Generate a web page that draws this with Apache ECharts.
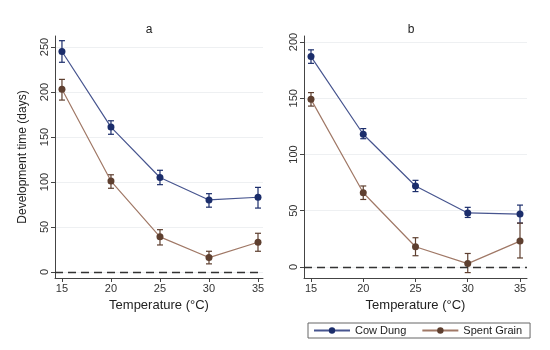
<!DOCTYPE html>
<html><head><meta charset="utf-8">
<script src="https://cdn.jsdelivr.net/npm/echarts@6/dist/echarts.min.js"></script>
<style>html,body{margin:0;padding:0;background:#fff}#c{width:550px;height:350px}</style>
</head><body><div id="c"></div>
<script>
const temps = [15, 20, 25, 30, 35];
const xTicks = [15, 20, 25, 30, 35];
const yTicksA = [0, 50, 100, 150, 200, 250];
const yTicksB = [0, 50, 100, 150, 200];
// Panel a
const cowA = [245, 161, 105, 80, 83];
const cowALow = [233, 153, 97, 72, 71];
const cowAHigh = [257, 168, 113, 87, 94];
const grainA = [203, 101, 39, 16, 33];
const grainALow = [191, 93, 30, 9, 23];
const grainAHigh = [214, 108, 47, 23, 43];
// Panel b
const cowB = [187, 118, 72, 48, 47];
const cowBLow = [181, 114, 67, 44, 39];
const cowBHigh = [193, 123, 77, 53, 55];
const grainB = [149, 66, 18, 3, 23];
const grainBLow = [143, 60, 10, -5, 8];
const grainBHigh = [155, 72, 26, 12, 39];

const COW_M = '#1b2d6b', COW_L = '#47558f';
const GR_M = '#5e3f2f', GR_L = '#a07866';
const FONT = 'Liberation Sans, Arial, sans-serif';

function pts(y) { return temps.map((t, i) => [t, y[i]]); }
function errData(lo, hi) { return temps.map((t, i) => [t, lo[i], hi[i]]); }
function errSeries(idx, lo, hi, color) {
  return {
    type: 'custom', xAxisIndex: idx, yAxisIndex: idx, z: 3, silent: true,
    data: errData(lo, hi),
    renderItem: function (params, api) {
      const x = api.value(0);
      const p1 = api.coord([x, api.value(1)]);
      const p2 = api.coord([x, api.value(2)]);
      const w = 3;
      const st = { stroke: color, lineWidth: 1.2 };
      return { type: 'group', children: [
        { type: 'line', shape: { x1: p1[0], y1: p1[1], x2: p2[0], y2: p2[1] }, style: st },
        { type: 'line', shape: { x1: p1[0] - w, y1: p1[1], x2: p1[0] + w, y2: p1[1] }, style: st },
        { type: 'line', shape: { x1: p2[0] - w, y1: p2[1], x2: p2[0] + w, y2: p2[1] }, style: st }
      ]};
    }
  };
}
function lineSeries(name, idx, y, mc, lc, withZero) {
  const s = {
    name: name, type: 'line', xAxisIndex: idx, yAxisIndex: idx, z: 4,
    data: pts(y), symbol: 'circle', symbolSize: 7,
    itemStyle: { color: mc }, lineStyle: { color: lc, width: 1.2 }
  };
  if (withZero) {
    s.markLine = { silent: true, symbol: 'none', label: { show: false },
      lineStyle: { color: '#333', type: [8, 5], width: 1.3 }, data: [{ yAxis: 0 }] };
  }
  return s;
}
function xAxis(idx, min, max) {
  return {
    type: 'value', gridIndex: idx, min: min, max: max,
    name: 'Temperature (°C)', nameLocation: 'middle', nameGap: 12,
    nameTextStyle: { fontSize: 13, color: '#222', fontFamily: FONT },
    axisLine: { show: true, onZero: false, lineStyle: { color: '#444' } },
    axisTick: { show: true, length: 4, customValues: xTicks, lineStyle: { color: '#444' } },
    axisLabel: { customValues: xTicks, fontSize: 11, color: '#333', fontFamily: FONT, margin: 5 },
    splitLine: { show: false }
  };
}
function yAxis(idx, min, max, ticks, withName) {
  return {
    type: 'value', gridIndex: idx, min: min, max: max,
    name: withName ? 'Development time (days)' : '', nameLocation: 'middle', nameGap: 26,
    nameTextStyle: { fontSize: 12, color: '#222', fontFamily: FONT },
    axisLine: { show: true, onZero: false, lineStyle: { color: '#444' } },
    axisTick: { show: true, length: 4, customValues: ticks, lineStyle: { color: '#444' } },
    axisLabel: { customValues: ticks, rotate: 90, fontSize: 11, color: '#333', fontFamily: FONT, margin: 5 },
    splitLine: { show: true, lineStyle: { color: '#eef0f2', width: 1 } }
  };
}
const chart = echarts.init(document.getElementById('c'), null, { renderer: 'canvas' });
chart.setOption({
  backgroundColor: '#fff',
  animation: false,
  textStyle: { fontFamily: FONT },
  title: [
    { text: 'a', left: 144, top: 19, textAlign: 'center', textStyle: { fontSize: 12, fontWeight: 'normal', color: '#222' } },
    { text: 'b', left: 406, top: 19, textAlign: 'center', textStyle: { fontSize: 12, fontWeight: 'normal', color: '#222' } }
  ],
  grid: [
    { left: 55, right: 287, top: 36, bottom: 72 },
    { left: 304, right: 23, top: 36, bottom: 72 }
  ],
  xAxis: [xAxis(0, 14.29, 35.51), xAxis(1, 14.33, 35.67)],
  yAxis: [yAxis(0, -6.7, 262.2, yTicksA, true), yAxis(1, -9.8, 205.3, yTicksB, false)],
  legend: {
    left: 308, top: 323, orient: 'horizontal', itemGap: 15,
    padding: [2, 8, 2, 5],
    borderColor: '#666', borderWidth: 1,
    itemWidth: 36, itemHeight: 8,
    textStyle: { fontSize: 11, color: '#222', fontFamily: FONT },
    data: ['Cow Dung', 'Spent Grain']
  },
  series: [
    lineSeries('Cow Dung', 0, cowA, COW_M, COW_L, true),
    lineSeries('Spent Grain', 0, grainA, GR_M, GR_L, false),
    errSeries(0, cowALow, cowAHigh, COW_M),
    errSeries(0, grainALow, grainAHigh, GR_M),
    lineSeries('Cow Dung', 1, cowB, COW_M, COW_L, true),
    lineSeries('Spent Grain', 1, grainB, GR_M, GR_L, false),
    errSeries(1, cowBLow, cowBHigh, COW_M),
    errSeries(1, grainBLow, grainBHigh, GR_M)
  ]
});
</script></body></html>
